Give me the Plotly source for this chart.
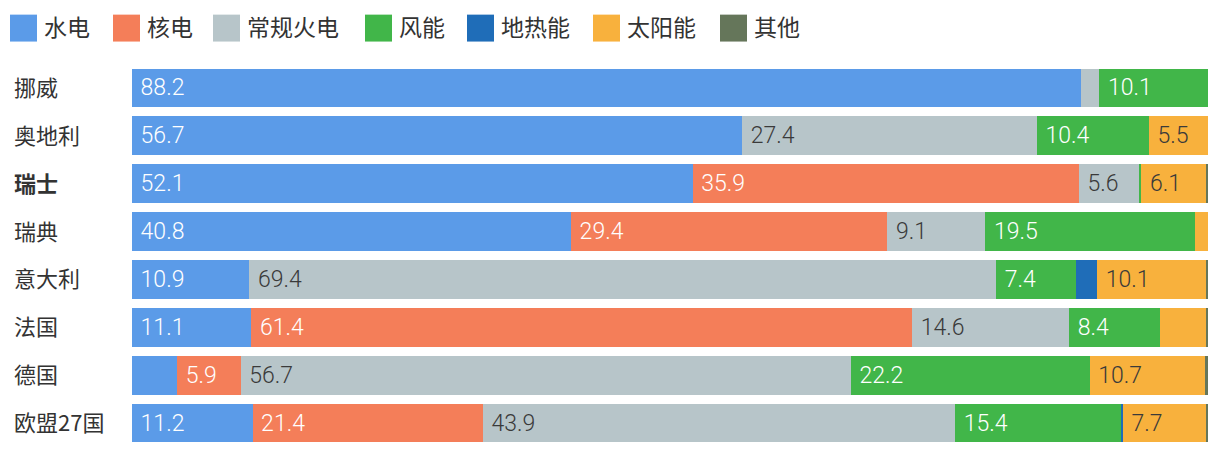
import plotly.graph_objects as go

# ---- data ----
countries = ["挪威", "奥地利", "瑞士", "瑞典", "意大利", "法国", "德国", "欧盟27国"]
series_names = ["水电", "核电", "常规火电", "风能", "地热能", "太阳能", "其他"]
hydro =      [88.2, 56.7, 52.1, 40.8, 10.9, 11.1, 4.2, 11.2]
nuclear =    [0.0,  0.0,  35.9, 29.4, 0.0,  61.4, 5.9, 21.4]
fossil =     [1.7,  27.4, 5.6,  9.1,  69.4, 14.6, 56.7, 43.9]
wind =       [10.1, 10.4, 0.2,  19.5, 7.4,  8.4, 22.2, 15.4]
geothermal = [0.0,  0.0,  0.0,  0.0,  2.0,  0.0, 0.0, 0.2]
solar =      [0.0,  5.5,  6.1,  1.2,  10.1, 4.3, 10.7, 7.7]
other =      [0.0,  0.0,  0.1,  0.0,  0.2,  0.2, 0.3, 0.2]

values = [hydro, nuclear, fossil, wind, geothermal, solar, other]
colors = ["#5B9BE8", "#F47E59", "#B7C5C9", "#41B649", "#1F6DB8", "#F8B13D", "#65765A"]
text_colors = ["white", "white", "#3a3a3a", "white", "white", "#3a3a3a", "white"]

# ---- layout geometry (pixels) ----
W, H = 1220, 456
ML, MR, MT, MB = 132, 12, 63.5, 8.5
PW, PH = W - ML - MR, H - MT - MB


def px2x(px):
    return (px - ML) / PW


def px2y(py):
    return (H - MB - py) / PH


FONT = "Noto Sans CJK SC, Noto Sans, sans-serif"
NUMFONT = "Roboto, Noto Sans, sans-serif"

fig = go.Figure()
for name, vals, col, tcol in zip(series_names, values, colors, text_colors):
    fig.add_trace(go.Bar(
        y=countries, x=vals, name=name, orientation="h",
        marker=dict(color=col, line=dict(width=0)),
        text=["\u00a0" + f"{v:.1f}" if v >= 5 else "" for v in vals],
        textposition="inside", insidetextanchor="start", textangle=0,
        textfont=dict(color=tcol, size=23, family=NUMFONT, weight=300),
        hoverinfo="x+y+name", showlegend=False,
    ))

annotations = []
shapes = []
# y-axis labels, left aligned
for c in countries:
    label = f"<b>{c}</b>" if c == "瑞士" else c
    annotations.append(dict(
        text=label, x=px2x(12), xref="paper", xanchor="left",
        y=c, yref="y", yanchor="middle", yshift=2, showarrow=False,
        font=dict(size=22, color="#333333", family=FONT),
    ))

# manual legend
swatch_px = [10, 113, 213, 365, 467, 593, 720]
for name, col, sx in zip(series_names, colors, swatch_px):
    shapes.append(dict(
        type="rect", xref="paper", yref="paper",
        x0=px2x(sx), x1=px2x(sx + 27), y0=px2y(41), y1=px2y(14),
        fillcolor=col, line=dict(width=0),
    ))
    annotations.append(dict(
        text=name, x=px2x(sx + 32), xref="paper", xanchor="left",
        y=px2y(25), yref="paper", yanchor="middle", showarrow=False,
        font=dict(size=23, color="#333333", family=FONT),
    ))

fig.update_layout(
    barmode="stack", bargap=0.19,
    width=W, height=H,
    margin=dict(l=ML, r=MR, t=MT, b=MB, pad=0),
    plot_bgcolor="white", paper_bgcolor="white",
    font=dict(family=FONT),
    uniformtext=dict(minsize=20, mode="show"),
    xaxis=dict(range=[0, 100], visible=False, fixedrange=True),
    yaxis=dict(autorange="reversed", showticklabels=False, showgrid=False,
               zeroline=False, fixedrange=True),
    annotations=annotations, shapes=shapes,
    showlegend=False,
)

fig.write_html("out.html", config={"displayModeBar": False})
